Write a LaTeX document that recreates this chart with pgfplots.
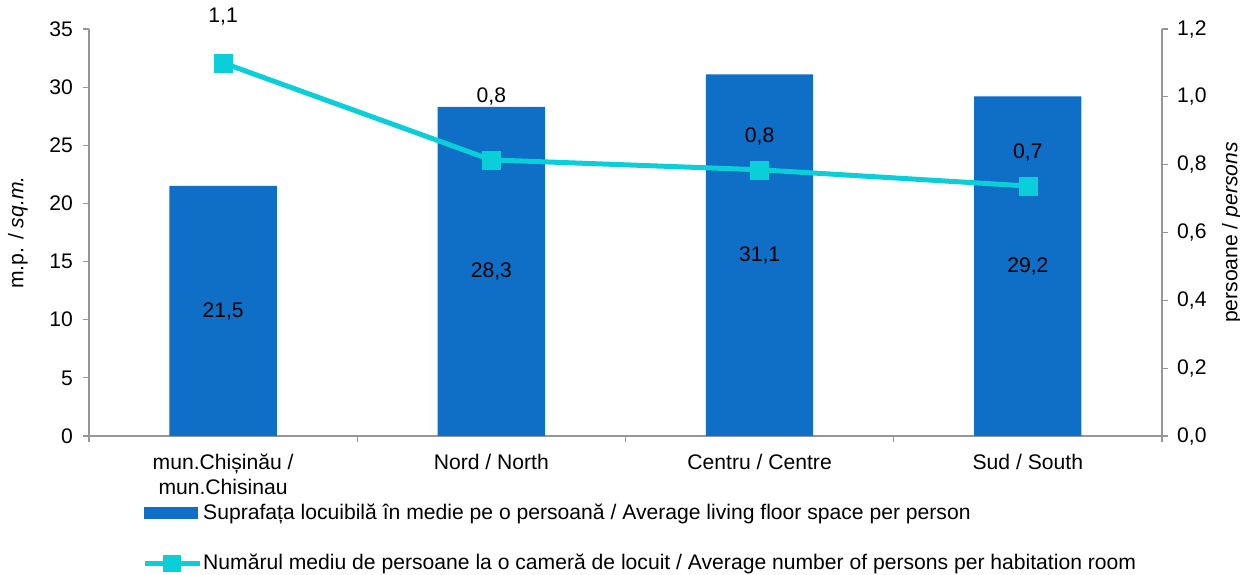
\documentclass[border=0pt]{standalone}
\usepackage{pgfplots}
\pgfplotsset{compat=1.18}
\usepackage{pgfplotstable}
\usepackage{fontspec}
\setmainfont{Liberation Sans}

\definecolor{barblue}{RGB}{15,110,198}
\definecolor{linecyan}{RGB}{10,206,216}
\definecolor{axisgray}{RGB}{150,150,150}

% suprafata locuibila, m.p.
\pgfplotstableread{
x y
0 21.5
1 28.3
2 31.1
3 29.2
}\bardata

% persoane la o camera; ly = pozitia etichetei
\pgfplotstableread{
x y ly
0 1.100 1.236
1 0.814 1.000
2 0.785 0.882
3 0.737 0.835
}\linedata

\pgfplotsset{
  base/.style={
    scale only axis, width=1073bp, height=407bp,
    xmin=-0.5, xmax=3.5, clip=false,
    axis line style={axisgray, line width=1.2bp},
    tick style={axisgray, line width=1.2bp},
    major tick length=6bp, tick align=outside,
    /pgf/number format/assume math mode=true,
    /pgf/number format/use comma,
  },
}

\begin{document}
\fontsize{21.2}{25}\selectfont
\begin{tikzpicture}
\useasboundingbox (-89bp,-139bp) rectangle (1151bp,436bp);

\begin{axis}[base,
    ymin=0, ymax=35, ytick={0,5,10,15,20,25,30,35},
    axis y line*=left, axis x line*=bottom,
    xtick={-0.5,0.5,1.5,2.5,3.5}, xticklabels={},
    extra x ticks={0,1,2,3},
    extra x tick labels={{mun.Chișinău /\\mun.Chisinau},{Nord / North},{Centru / Centre},{Sud / South}},
    extra x tick style={major tick length=0pt},
    x tick label style={align=center, yshift=-11bp},
    y tick label style={xshift=-3bp},
    ylabel={m.p. / \textit{sq.m.}},
    ylabel style={at={(axis description cs:-0.0662,0.5)}, anchor=center},
]
\addplot[ybar, bar width=0.4, fill=barblue, draw=none] table[x=x, y=y] {\bardata};
\addplot[draw=none, mark=none, forget plot,
    nodes near coords, point meta=explicit,
    every node near coord/.append style={anchor=center, text=black,
      /pgf/number format/.cd, fixed, precision=1, use comma}]
    table[x=x, y expr=\thisrow{y}/2, meta=y] {\bardata};
\end{axis}

\begin{axis}[base,
    ymin=0, ymax=1.2, ytick={0,0.2,0.4,0.6,0.8,1.0,1.2},
    axis y line*=right, axis x line=none, xtick=\empty,
    yticklabel style={xshift=2bp, /pgf/number format/.cd, fixed, fixed zerofill, precision=1, use comma},
    ylabel={persoane / \textit{persons}},
    ylabel style={at={(axis description cs:1.0652,0.5)}, anchor=center, rotate=0},
    legend style={at={(axis description cs:0.0494,-0.163)}, anchor=north west,
      draw=none, fill=none, inner sep=0pt, row sep=30bp,
      nodes={inner sep=1bp}},
    legend cell align=left,
]
\addlegendimage{legend image code/.code={\fill[barblue] (0bp,-5.5bp) rectangle (53bp,5.5bp);}}
\addlegendentry{Suprafața locuibilă în medie pe o persoană / Average living floor space per person}
\addplot[linecyan, line width=5bp, mark=square*, mark size=9bp,
    mark options={line width=0.5bp},
    legend image code/.code={
      \draw[linecyan, line width=5bp] (0bp,0bp) -- (55bp,0bp);
      \fill[linecyan] (21bp,-6bp) rectangle (34bp,6bp);}]
    table[x=x, y=y] {\linedata};
\addlegendentry{Numărul mediu de persoane la o cameră de locuit / Average number of persons per habitation room}
\addplot[draw=none, mark=none, forget plot,
    nodes near coords, point meta=explicit,
    every node near coord/.append style={anchor=center, text=black,
      /pgf/number format/.cd, fixed, precision=1, use comma}]
    table[x=x, y=ly, meta=y] {\linedata};
\end{axis}
\end{tikzpicture}
\end{document}
